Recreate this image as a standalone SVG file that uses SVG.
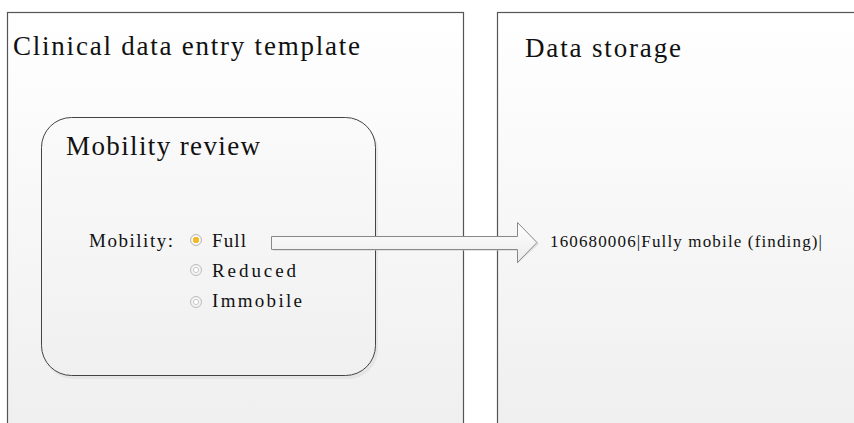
<svg xmlns="http://www.w3.org/2000/svg" width="854" height="423" viewBox="0 0 854 423">
<defs>
<linearGradient id="panel" x1="0" y1="0" x2="0" y2="1"><stop offset="0" stop-color="#ffffff"/><stop offset="1" stop-color="#efefef"/></linearGradient>
<linearGradient id="inner" x1="0" y1="0" x2="0" y2="1"><stop offset="0" stop-color="#fafafa"/><stop offset="1" stop-color="#f0f0f0"/></linearGradient>
<linearGradient id="arrowg" x1="0" y1="0" x2="0" y2="1"><stop offset="0" stop-color="#ffffff"/><stop offset="1" stop-color="#ebebeb"/></linearGradient>
<radialGradient id="radioOn"><stop offset="0" stop-color="#f7c640"/><stop offset="0.55" stop-color="#f2b928"/><stop offset="0.6" stop-color="#ffffff"/><stop offset="1" stop-color="#e6e6e6"/></radialGradient>
</defs>
<style>
.panel{fill:url(#panel);stroke:#555;stroke-width:1.2}
.t{font-family:"Liberation Serif",serif;fill:#111}
.radio{fill:#f4f4f4;stroke:#bbb;stroke-width:1}
.dot{fill:#fff;stroke:#bbb;stroke-width:0.8}
</style>
<rect width="854" height="423" fill="#fff"/>
<g id="panel-left">
<rect class="panel" x="7.5" y="12.5" width="456" height="420"/>
<text class="t" x="13" y="55" font-size="27" textLength="347" lengthAdjust="spacing">Clinical data entry template</text>
</g>
<g id="panel-right">
<rect class="panel" x="497.5" y="12.5" width="370" height="420"/>
<text class="t" x="525" y="57" font-size="27" textLength="156" lengthAdjust="spacing">Data storage</text>
<text class="t" x="550" y="247" font-size="17" textLength="272" lengthAdjust="spacing">160680006|Fully mobile (finding)|</text>
</g>
<g id="mobility-review">
<rect x="43" y="120" width="335" height="259" rx="30" fill="#ddd" opacity="0.6"/>
<rect x="41.5" y="117.5" width="334" height="258" rx="30" fill="url(#inner)" stroke="#444" stroke-width="1"/>
<text class="t" x="66" y="155" font-size="27" textLength="194" lengthAdjust="spacing">Mobility review</text>
<text class="t" x="89" y="247" font-size="19" textLength="84" lengthAdjust="spacing">Mobility:</text>
<circle cx="196" cy="240" r="5.5" fill="url(#radioOn)" stroke="#bbb" stroke-width="1"/>
<circle cx="196" cy="240" r="2.8" fill="#f2b928"/>
<circle class="radio" cx="196" cy="270" r="5.5"/>
<circle class="dot" cx="196" cy="270" r="2.6"/>
<circle class="radio" cx="196" cy="302" r="5.5"/>
<circle class="dot" cx="196" cy="302" r="2.6"/>
<text class="t" x="212" y="247" font-size="19" textLength="34" lengthAdjust="spacing">Full</text>
<text class="t" x="212" y="277" font-size="19" textLength="84" lengthAdjust="spacing">Reduced</text>
<text class="t" x="212" y="307" font-size="19" textLength="90" lengthAdjust="spacing">Immobile</text>
</g>
<g id="connectors">
<path d="M273 238 L517 238 L517 224 L539 244 L517 264 L517 251 L273 251 Z" fill="#ccc" opacity="0.5"/>
<path d="M271.5 236.5 L517.5 236.5 L517.5 222.5 L537 242.5 L517.5 262.5 L517.5 249.5 L271.5 249.5 Z" fill="url(#arrowg)" stroke="#888" stroke-width="1"/>
</g>
</svg>
